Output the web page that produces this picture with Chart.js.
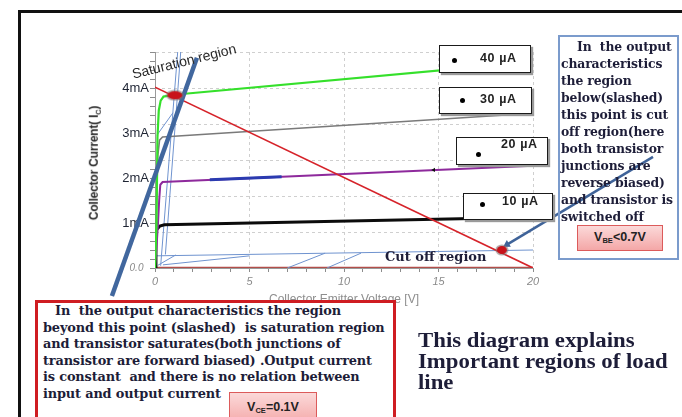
<!DOCTYPE html>
<html>
<head>
<meta charset="utf-8">
<script src="https://cdn.jsdelivr.net/npm/chart.js@4/dist/chart.umd.min.js"></script>
<style>
  html, body { margin: 0; padding: 0; background: #fff; }
  #wrap { position: relative; width: 682px; height: 417px; overflow: hidden; background: #fff; }
  #frame { position: absolute; left: 18px; top: 10px; width: 720px; height: 500px; border: 3px solid #111; box-sizing: border-box; }
  #chart { position: absolute; left: 0; top: 0; }
  .serif { font-family: "DejaVu Serif", serif; font-weight: bold; color: #1d1d38; }
  .rbox { position: absolute; left: 558px; top: 35px; width: 121px; height: 225px; border: 2px solid #7b9bcc; box-sizing: border-box; overflow: hidden; }
  .rbox .serif { font-size: 12.4px; line-height: 17px; padding: 1px 0 0 1px; white-space: nowrap; letter-spacing: -0.15px; }
  .lbox { position: absolute; left: 35px; top: 300px; width: 361px; height: 140px; border: 3px solid #cf1d22; background: #fff; box-sizing: border-box; }
  .lbox .serif { font-size: 12.9px; line-height: 16.6px; padding: 0 0 0 5px; white-space: nowrap; letter-spacing: -0.15px; }
  .vbox { position: absolute; border: 1.5px solid #dc5b5b; background: linear-gradient(#fbd9d9, #f4a7a7); box-sizing: border-box;
          font: bold 12.5px "Liberation Sans", sans-serif; color: #222; text-align: center; }
  .vbox sub { font-size: 7.5px; vertical-align: -2px; }
  .ib { position: absolute; background: #fff; border: 1.6px solid #1a1a1a; box-shadow: 2px 2px 1px #9a9a9a; box-sizing: border-box;
        font: bold 12.5px "Liberation Sans", sans-serif; color: #222; letter-spacing: 0.6px; }
  .ib .dot { position: absolute; width: 5px; height: 5px; border-radius: 50%; background: #000; }
  .ib .t { position: absolute; }
  #ytitle { position: absolute; left: 95px; top: 163px; transform: translate(-50%, -50%) rotate(-90deg);
            font: bold 12px "Liberation Sans", sans-serif; color: #2a2a2a; white-space: nowrap; letter-spacing: -0.2px; }
  #ytitle sub { font-size: 7.5px; }
  #satlabel { position: absolute; left: 184px; top: 61px; transform: translate(-50%, -50%) rotate(-14deg);
              font: 14px "Liberation Sans", sans-serif; color: #2a2a2a; white-space: nowrap; }
  #cutlabel { position: absolute; left: 385px; top: 249px; font: bold 13px "DejaVu Serif", serif; color: #1d1d38; white-space: nowrap; }
  #summary { position: absolute; left: 418px; top: 330px; font: bold 20px "Liberation Serif", serif; color: #1d1d38;
             line-height: 21px; white-space: nowrap; transform: scaleX(1.14); transform-origin: left top; }
</style>
</head>
<body>
<div id="wrap">
  <div id="frame"></div>
  <canvas id="chart" width="682" height="417"></canvas>

  <div id="ytitle">Collector Current( I<sub>C</sub>)</div>
  <div id="satlabel">Saturation region</div>
  <div id="cutlabel">Cut off region</div>

  <div class="ib" style="left:439px;top:45px;width:92px;height:28px;"><span class="dot" style="left:12px;top:12px;"></span><span class="t" style="left:40px;top:5px;">40 µA</span></div>
  <div class="ib" style="left:439px;top:87px;width:93px;height:27px;"><span class="dot" style="left:20px;top:10px;"></span><span class="t" style="left:40px;top:4px;">30 µA</span></div>
  <div class="ib" style="left:456px;top:137px;width:92px;height:28px;"><span class="dot" style="left:19px;top:14px;"></span><span class="t" style="left:44px;top:-1px;">20 µA</span></div>
  <div class="ib" style="left:463px;top:193px;width:90px;height:27px;"><span class="dot" style="left:16px;top:8px;"></span><span class="t" style="left:38px;top:0px;">10 µA</span></div>

  <div class="rbox">
    <div class="serif"><span style="padding-left:16px">In&nbsp; the output</span><br>characteristics<br>the region<br>below(slashed)<br>this point is cut<br>off region(here<br>both transistor<br>junctions are<br>reverse biased)<br>and transistor is<br>switched off</div>
  </div>
  <div class="vbox" style="left:577px;top:225px;width:86px;height:26px;line-height:23px;">V<sub>BE</sub>&lt;0.7V</div>

  <div class="lbox">
    <div class="serif"><span style="padding-left:12px">In&nbsp; the output characteristics the region</span><br>beyond this point (slashed)&nbsp; is saturation region<br>and transistor saturates(both junctions of<br>transistor are forward biased) .Output current<br>is constant&nbsp; and there is no relation between<br>input and output current</div>
  </div>
  <div class="vbox" style="left:229px;top:392px;width:88px;height:34px;line-height:28px;">V<sub>CE</sub>=0.1V</div>

  <div id="summary">This diagram explains<br>Important regions of load<br>line</div>
</div>

<script>
// Output characteristics of the transistor: collector current (mA) against V_CE (V)
const ib40V = [0, 0.08, 0.13, 0.2, 0.3, 0.45, 1.0, 20];
const ib40I = [0, 1.0, 2.9, 3.5, 3.72, 3.81, 3.85, 4.58];
const ib30V = [0, 0.08, 0.15, 0.24, 0.4, 20];
const ib30I = [0, 1.5, 2.5, 2.84, 2.91, 3.44];
const ib20V = [0, 0.1, 0.16, 0.22, 0.28, 0.4, 20];
const ib20I = [0, 0.6, 1.0, 1.5, 1.85, 1.91, 2.27];
const ib10V = [0, 0.05, 0.25, 0.5, 16.8];
const ib10I = [0, 0.84, 0.93, 0.96, 1.1];
const ib0V = [0, 20];
const ib0I = [0, 0];
// highlighted stretch of the 20 µA trace
const ib20MarkV = [2.9, 6.7];
const ib20MarkI = [1.96, 2.03];

// DC load line and its two end regions
const loadV = [0, 20];
const loadI = [4.02, 0];
const qSatV = [1.05];
const qSatI = [3.84];
const qCutV = [18.35];
const qCutI = [0.4];

// pointer lines from the notes to the two operating points
const pointerSatV = [2.22, -2.28];
const pointerSatI = [4.67, -0.62];
const pointerCutV = [26.35, 18.62];
const pointerCutI = [2.47, 0.52];

// hatching of the saturation and cut-off regions
const satHatchV = [[1.2, 0.3], [1.36, 0.55], [0.1, 0.95]];
const satHatchI = [[4.8, 0.05], [4.8, 0.3], [2.95, 3.45]];
const cutHatchV = [[0, 20], [0.42, 5.0], [0.15, 1.1], [7.0, 9.0], [9.1, 10.9]];
const cutHatchI = [[0.27, 0.4], [0.07, 0.27], [0.06, 0.29], [0, 0.33], [0, 0.33]];

// axis tick labels
const xLabelValues = [0, 5, 10, 15, 20];
const yLabelValues = [0, 1, 2, 3, 4];
const yLabelTexts = ['0.0  ', '1mA', '2mA', '3mA', '4mA'];

const pts = (vs, is) => vs.map((v, i) => ({ x: v, y: is[i] }));

function ballImage(w, h) {
  const c = document.createElement('canvas');
  c.width = w + 4; c.height = h + 4;
  const g = c.getContext('2d');
  g.fillStyle = 'rgba(130,120,120,0.6)';
  g.beginPath(); g.ellipse(c.width / 2, c.height / 2, w / 2 + 1.5, h / 2 + 1.5, 0, 0, Math.PI * 2); g.fill();
  g.fillStyle = '#c8121a';
  g.beginPath(); g.ellipse(c.width / 2, c.height / 2, w / 2, h / 2, 0, 0, Math.PI * 2); g.fill();
  return c;
}

const line = (data, color, width, extra) => Object.assign({
  data, borderColor: color, backgroundColor: color, borderWidth: width,
  showLine: true, pointRadius: 0, tension: 0, fill: false
}, extra || {});

const hatch = [];
satHatchV.forEach((v, i) => hatch.push(line(pts(v, satHatchI[i]), '#6f93cf', 1, { clip: false })));
cutHatchV.forEach((v, i) => hatch.push(line(pts(v, cutHatchI[i]), '#6f93cf', 1)));

const datasets = [
  line(pts(qSatV, qSatI), '#c8121a', 0, { showLine: false, pointRadius: 8, pointStyle: ballImage(15, 8) }),
  line(pts(qCutV, qCutI), '#c8121a', 0, { showLine: false, pointRadius: 6, pointStyle: ballImage(10, 8) }),
  line(pts(pointerSatV, pointerSatI), '#41679e', 4.5, { clip: false, borderCapStyle: 'butt' }),
  line(pts(pointerCutV, pointerCutI), '#3f6399', 2.5, { clip: false, pointRadius: [0, 4.5], pointStyle: 'triangle', rotation: 239, pointBorderWidth: 0 }),
  line(pts(loadV, loadI), '#d6232a', 1.6),
  line(pts([14.75], [2.18]), '#111', 0, { showLine: false, pointRadius: 2.5, pointStyle: 'triangle', rotation: 270 }),
  line(pts(ib20MarkV, ib20MarkI), '#2b3bb0', 3),
  line(pts(ib40V, ib40I), '#35e02b', 2.2),
  line(pts(ib30V, ib30I), '#7a7a7a', 1.6),
  line(pts(ib20V, ib20I), '#8e2a9c', 2),
  line(pts(ib10V, ib10I), '#0c0c0c', 3),
  ...hatch,
  line(pts(ib0V, ib0I), '#b24e4a', 2.6)
];

const near = (a, b) => Math.round(a * 10) === Math.round(b * 10);

new Chart(document.getElementById('chart'), {
  type: 'scatter',
  data: { datasets },
  options: {
    responsive: false,
    animation: false,
    devicePixelRatio: 1,
    events: [],
    layout: { padding: { left: 0, top: 52, right: 149, bottom: 0 } },
    plugins: { legend: { display: false }, tooltip: { enabled: false } },
    scales: {
      x: {
        type: 'linear', min: 0, max: 20,
        afterFit(s) { s.height = 149; },
        ticks: {
          stepSize: 1, autoSkip: false, maxRotation: 0, maxTicksLimit: 100, padding: 3,
          callback: v => (xLabelValues.some(t => near(t, v)) ? String(v) : ''),
          font: { family: 'Liberation Sans', size: 11, style: 'italic' },
          color: '#8a8a8a'
        },
        grid: {
          color: c => (c.tick && [5, 10, 15, 20].includes(Math.round(c.tick.value)) ? '#cfcfcf' : 'rgba(0,0,0,0)'),
          lineWidth: 1, tickColor: '#8c8c8c', tickLength: 4
        },
        border: { display: true, color: '#999', dash: [3, 3] },
        title: {
          display: true, text: 'Collector Emitter Voltage [V]', color: '#8e8e8e',
          font: { family: 'Liberation Sans', size: 12 }, padding: { top: 0, bottom: 110 }
        }
      },
      y: {
        type: 'linear', min: 0, max: 4.8,
        afterFit(s) { s.width = 155; },
        ticks: {
          stepSize: 0.2, autoSkip: false, maxTicksLimit: 100, padding: 1,
          callback: v => {
            const i = yLabelValues.findIndex(t => near(t, v));
            return i >= 0 ? yLabelTexts[i] : '';
          },
          font: c => (c.tick && near(c.tick.value, 0)
            ? { family: 'Liberation Sans', size: 10, style: 'italic' }
            : { family: 'Liberation Sans', size: 13 }),
          color: c => (c.tick && near(c.tick.value, 0) ? '#8a8a8a' : '#1e2433')
        },
        grid: {
          color: c => {
            if (!c.tick) return 'rgba(0,0,0,0)';
            const k = Math.round(c.tick.value * 10);
            return k > 0 && k % 8 === 0 ? '#cfcfcf' : 'rgba(0,0,0,0)';
          },
          lineWidth: 1, tickColor: '#8c8c8c', tickLength: 5
        },
        border: { display: true, color: '#9a9a9a', dash: [3, 3] }
      }
    }
  }
});
</script>
</body>
</html>
